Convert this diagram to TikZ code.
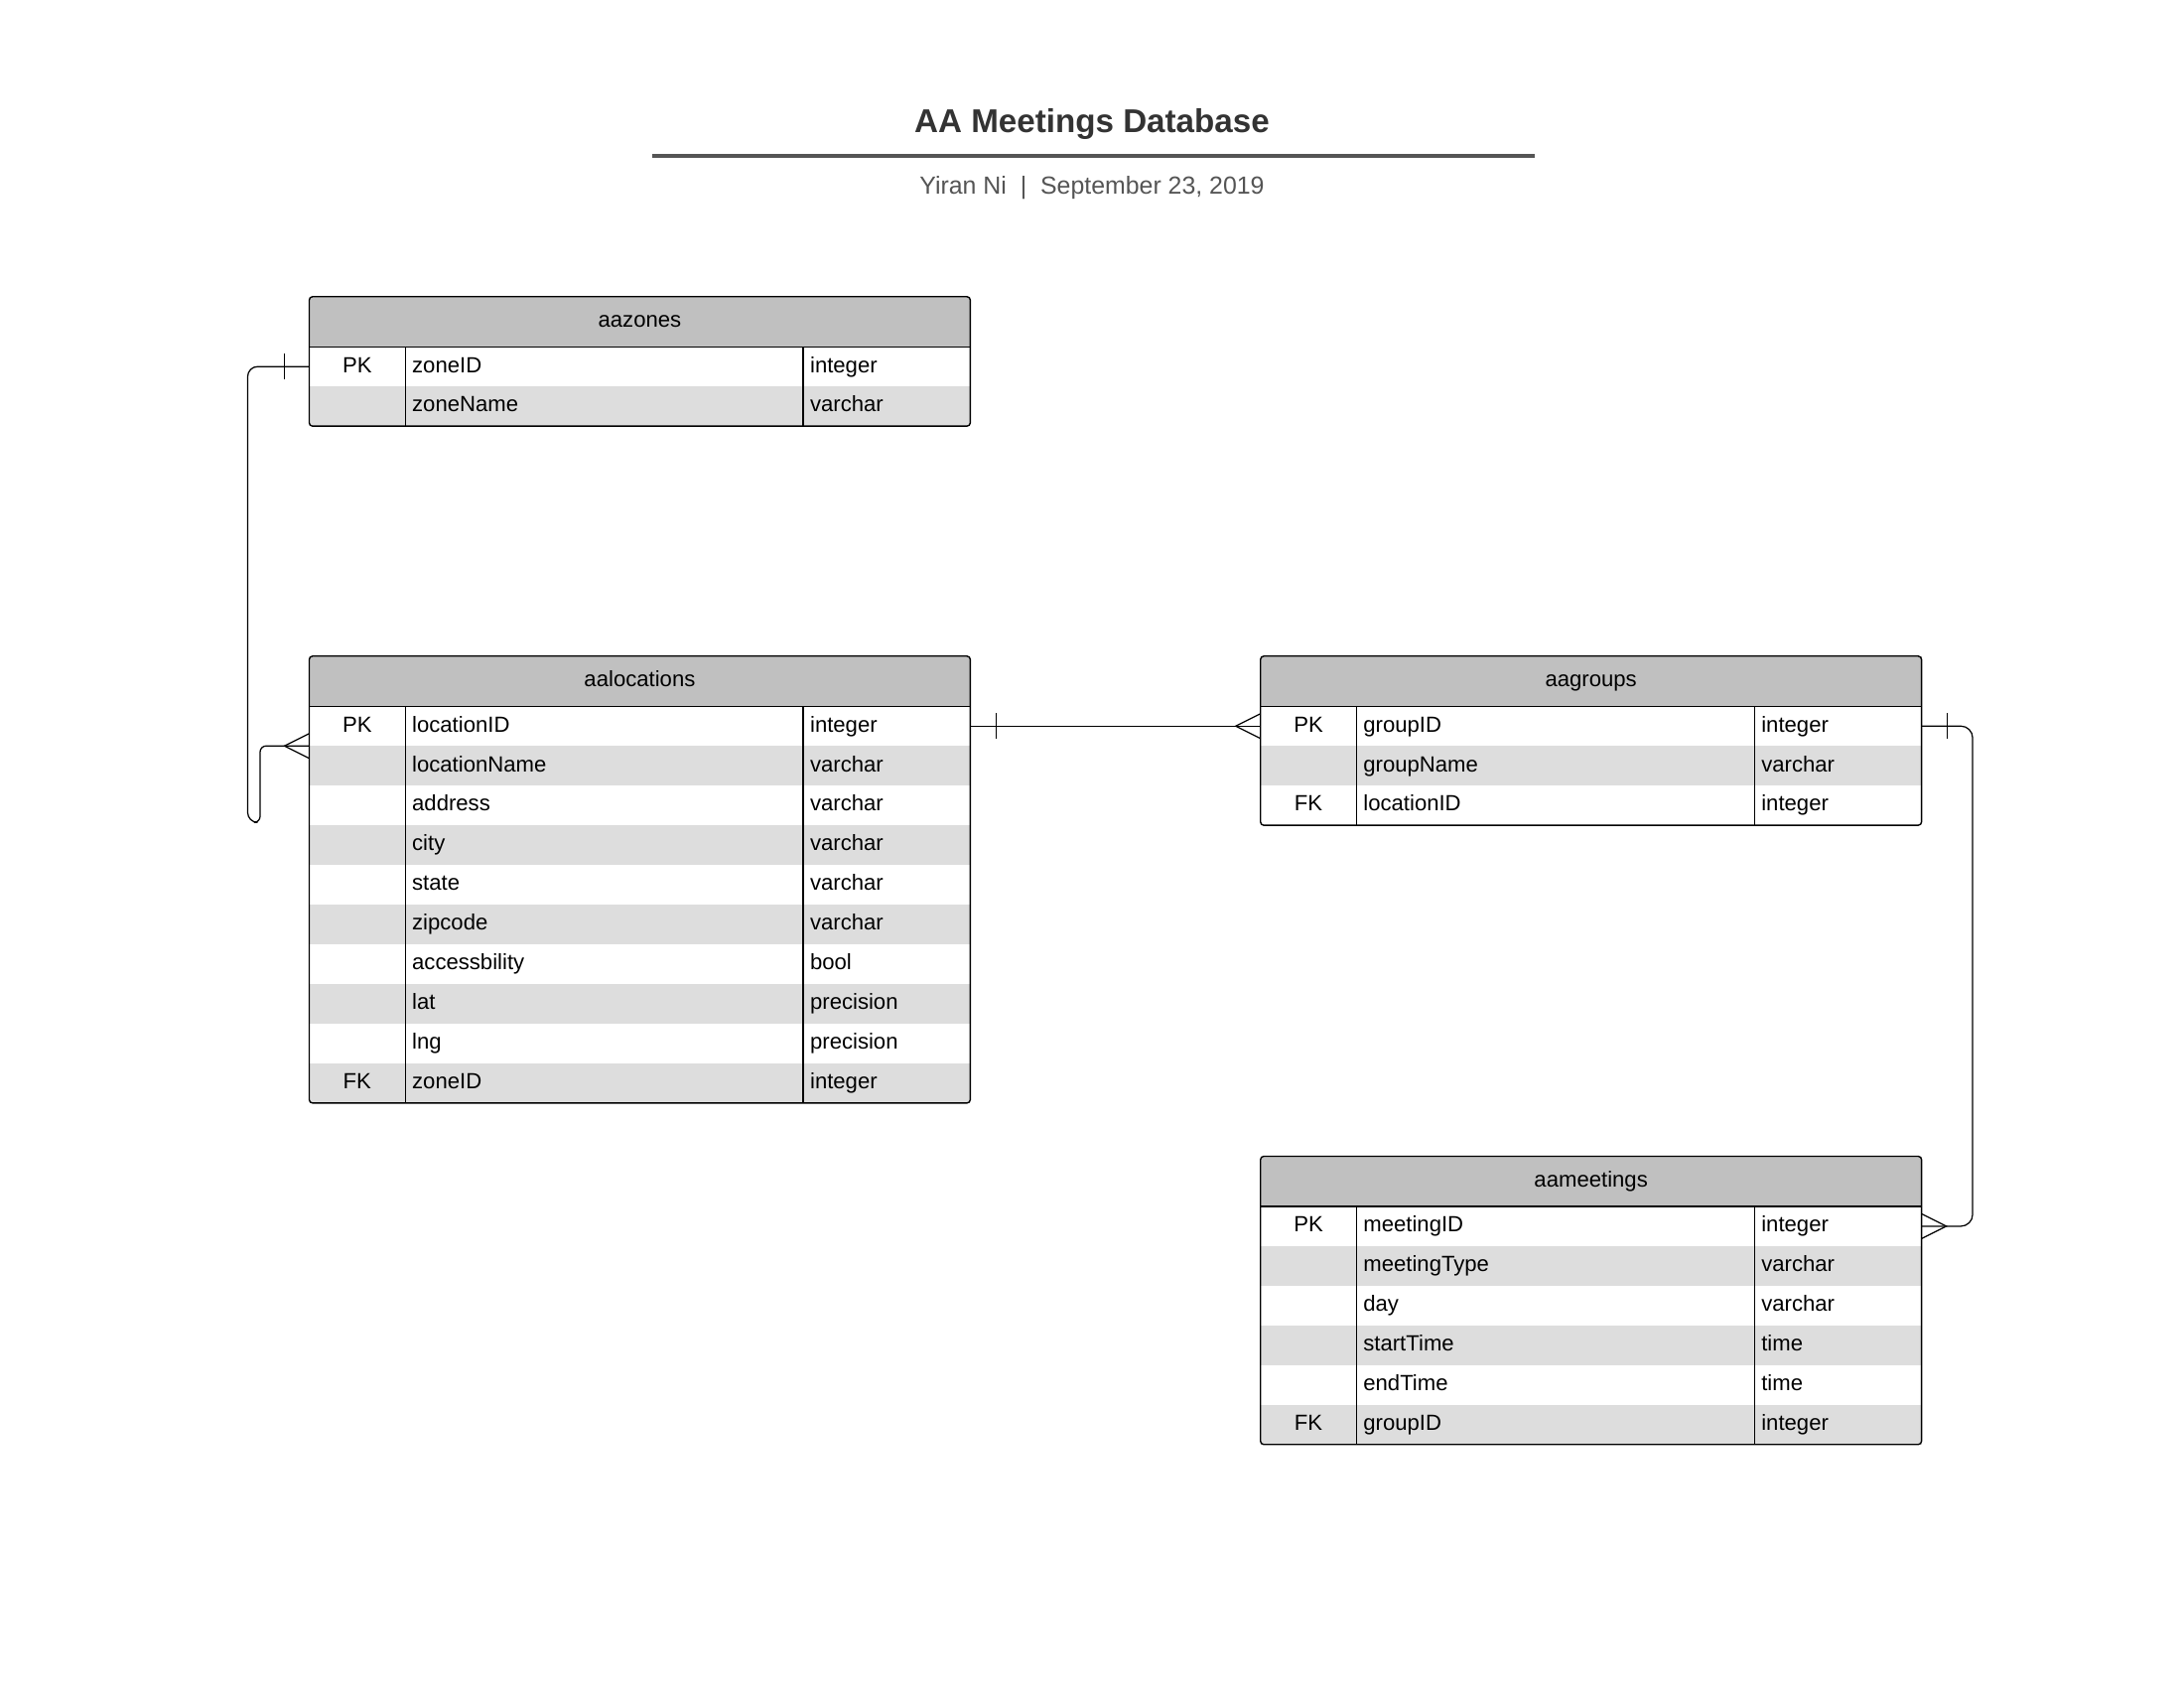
\documentclass[tikz,border=0pt]{standalone}
\usepackage{fontspec}
\setmainfont{Liberation Sans}
\usepackage{tikz}
\usetikzlibrary{positioning, calc}
\definecolor{headgray}{RGB}{192,192,192}
\definecolor{rowgray}{RGB}{221,221,221}
\definecolor{titlegray}{RGB}{51,51,51}
\definecolor{subgray}{RGB}{85,85,85}
\newcommand{\tabfont}{\fontsize{8}{9.6}\selectfont}
\tikzstyle{tabhead} =
[rectangle, minimum width = 239.94bp, minimum height = 0.2525in,
inner sep = 0pt, outer sep = 0pt, text centered, fill=headgray,
anchor = north west, font = \tabfont, text height = 6pt, text depth = 1.8pt]
\tikzstyle{cell} =
[rectangle, minimum height = 0.2in, inner sep = 0pt, outer sep = 0pt,
font = \tabfont, text height = 6pt, text depth = 1.8pt]
\tikzstyle{keycell} = [cell, minimum width = 34.85bp, text centered]
\tikzstyle{namecell} =
[cell, inner xsep = 2.5bp, text width = 139.47bp, align = left]
\tikzstyle{typecell} =
[cell, inner xsep = 2.5bp, text width = 55.62bp, align = left]
\tikzstyle{lightrow} = [fill=white]
\tikzstyle{darkrow} = [fill=rowgray]
\tikzstyle{tabline} = [draw=black, line width = 0.5pt]
\tikzstyle{rel} = [draw=black, line width = 0.45pt]
\begin{document}
\begin{tikzpicture}[x = 0.005in, y = -0.005in]
  \useasboundingbox (0,0) rectangle (2200,1700);
  % title block
  \node [font = \fontsize{12}{14}\selectfont\bfseries, text=titlegray]
   (title) at (1100,125.5) {AA Meetings Database};
  \coordinate (rulewest) at (657,157);
  \coordinate (ruleeast) at (1546,157);
  \draw [line width = 1.1pt, subgray] (rulewest) -- (ruleeast);
  \node [font = \fontsize{9}{11}\selectfont, text=subgray]
   (byline) at (1100,189) {Yiran Ni\ \ |\ \ September 23, 2019};
  %
  % aazones
  \node [tabhead] (zones) at (311.5,298.8) {aazones};
  \node [keycell, lightrow, below right=0pt of zones.south west] (zk1) {PK};
  \node [namecell, lightrow, right=0pt of zk1] (zn1) {zoneID};
  \node [typecell, lightrow, right=0pt of zn1] (zt1) {integer};
  \node [keycell, darkrow, below=0pt of zk1] (zk2) {};
  \node [namecell, darkrow, right=0pt of zk2] (zn2) {zoneName};
  \node [typecell, darkrow, right=0pt of zn2] (zt2) {varchar};
  \draw [tabline, rounded corners=1.2pt] (zones.north west) rectangle (zt2.south east);
  \draw [tabline] (zones.south west) -- (zones.south east);
  \draw [tabline] (zk1.north east) -- (zk2.south east);
  \draw [tabline] (zn1.north east) -- (zn2.south east);
  %
  % aalocations
  \node [tabhead] (locations) at (311.5,660.8) {aalocations};
  \node [keycell, lightrow, below right=0pt of locations.south west] (lk1) {PK};
  \node [namecell, lightrow, right=0pt of lk1] (ln1) {locationID};
  \node [typecell, lightrow, right=0pt of ln1] (lt1) {integer};
  \node [keycell, darkrow, below=0pt of lk1] (lk2) {};
  \node [namecell, darkrow, right=0pt of lk2] (ln2) {locationName};
  \node [typecell, darkrow, right=0pt of ln2] (lt2) {varchar};
  \node [keycell, lightrow, below=0pt of lk2] (lk3) {};
  \node [namecell, lightrow, right=0pt of lk3] (ln3) {address};
  \node [typecell, lightrow, right=0pt of ln3] (lt3) {varchar};
  \node [keycell, darkrow, below=0pt of lk3] (lk4) {};
  \node [namecell, darkrow, right=0pt of lk4] (ln4) {city};
  \node [typecell, darkrow, right=0pt of ln4] (lt4) {varchar};
  \node [keycell, lightrow, below=0pt of lk4] (lk5) {};
  \node [namecell, lightrow, right=0pt of lk5] (ln5) {state};
  \node [typecell, lightrow, right=0pt of ln5] (lt5) {varchar};
  \node [keycell, darkrow, below=0pt of lk5] (lk6) {};
  \node [namecell, darkrow, right=0pt of lk6] (ln6) {zipcode};
  \node [typecell, darkrow, right=0pt of ln6] (lt6) {varchar};
  \node [keycell, lightrow, below=0pt of lk6] (lk7) {};
  \node [namecell, lightrow, right=0pt of lk7] (ln7) {accessbility};
  \node [typecell, lightrow, right=0pt of ln7] (lt7) {bool};
  \node [keycell, darkrow, below=0pt of lk7] (lk8) {};
  \node [namecell, darkrow, right=0pt of lk8] (ln8) {lat};
  \node [typecell, darkrow, right=0pt of ln8] (lt8) {precision};
  \node [keycell, lightrow, below=0pt of lk8] (lk9) {};
  \node [namecell, lightrow, right=0pt of lk9] (ln9) {lng};
  \node [typecell, lightrow, right=0pt of ln9] (lt9) {precision};
  \node [keycell, darkrow, below=0pt of lk9] (lk10) {FK};
  \node [namecell, darkrow, right=0pt of lk10] (ln10) {zoneID};
  \node [typecell, darkrow, right=0pt of ln10] (lt10) {integer};
  \draw [tabline, rounded corners=1.2pt] (locations.north west) rectangle (lt10.south east);
  \draw [tabline] (locations.south west) -- (locations.south east);
  \draw [tabline] (lk1.north east) -- (lk10.south east);
  \draw [tabline] (ln1.north east) -- (ln10.south east);
  %
  % aagroups
  \node [tabhead] (groups) at (1269.7,660.8) {aagroups};
  \node [keycell, lightrow, below right=0pt of groups.south west] (gk1) {PK};
  \node [namecell, lightrow, right=0pt of gk1] (gn1) {groupID};
  \node [typecell, lightrow, right=0pt of gn1] (gt1) {integer};
  \node [keycell, darkrow, below=0pt of gk1] (gk2) {};
  \node [namecell, darkrow, right=0pt of gk2] (gn2) {groupName};
  \node [typecell, darkrow, right=0pt of gn2] (gt2) {varchar};
  \node [keycell, lightrow, below=0pt of gk2] (gk3) {FK};
  \node [namecell, lightrow, right=0pt of gk3] (gn3) {locationID};
  \node [typecell, lightrow, right=0pt of gn3] (gt3) {integer};
  \draw [tabline, rounded corners=1.2pt] (groups.north west) rectangle (gt3.south east);
  \draw [tabline] (groups.south west) -- (groups.south east);
  \draw [tabline] (gk1.north east) -- (gk3.south east);
  \draw [tabline] (gn1.north east) -- (gn3.south east);
  %
  % aameetings
  \node [tabhead] (meetings) at (1269.7,1164.5) {aameetings};
  \node [keycell, lightrow, below right=0pt of meetings.south west] (mk1) {PK};
  \node [namecell, lightrow, right=0pt of mk1] (mn1) {meetingID};
  \node [typecell, lightrow, right=0pt of mn1] (mt1) {integer};
  \node [keycell, darkrow, below=0pt of mk1] (mk2) {};
  \node [namecell, darkrow, right=0pt of mk2] (mn2) {meetingType};
  \node [typecell, darkrow, right=0pt of mn2] (mt2) {varchar};
  \node [keycell, lightrow, below=0pt of mk2] (mk3) {};
  \node [namecell, lightrow, right=0pt of mk3] (mn3) {day};
  \node [typecell, lightrow, right=0pt of mn3] (mt3) {varchar};
  \node [keycell, darkrow, below=0pt of mk3] (mk4) {};
  \node [namecell, darkrow, right=0pt of mk4] (mn4) {startTime};
  \node [typecell, darkrow, right=0pt of mn4] (mt4) {time};
  \node [keycell, lightrow, below=0pt of mk4] (mk5) {};
  \node [namecell, lightrow, right=0pt of mk5] (mn5) {endTime};
  \node [typecell, lightrow, right=0pt of mn5] (mt5) {time};
  \node [keycell, darkrow, below=0pt of mk5] (mk6) {FK};
  \node [namecell, darkrow, right=0pt of mk6] (mn6) {groupID};
  \node [typecell, darkrow, right=0pt of mn6] (mt6) {integer};
  \draw [tabline, rounded corners=1.2pt] (meetings.north west) rectangle (mt6.south east);
  \draw [tabline] (meetings.south west) -- (meetings.south east);
  \draw [tabline] (mk1.north east) -- (mk6.south east);
  \draw [tabline] (mn1.north east) -- (mn6.south east);
  %
  % relations
  \draw [rel] (zk1.west) [rounded corners=3.6pt] -- ++(-62,0) -- ++(0,459)
   [rounded corners=2.2pt] -- ++(12.5,0) -- ++(0,-77)
   [rounded corners=3.6pt] -- (lk1.south west);
  \draw [rel] (lt1.east) -- (gk1.west);
  \draw [rel, rounded corners=4.3pt] (gt1.east) -- ++(51.5,0) |- (mt1.east);
  % one ends
  \draw [rel] ($(zk1.west)+(-25,-13)$) -- ($(zk1.west)+(-25,13)$);
  \draw [rel] ($(lt1.east)+(26,-13)$) -- ($(lt1.east)+(26,13)$);
  \draw [rel] ($(gt1.east)+(26,-13)$) -- ($(gt1.east)+(26,13)$);
  % many ends
  \draw [rel] ($(lk1.south west)+(0,-12.5)$) -- ($(lk1.south west)+(-25,0)$)
   -- ($(lk1.south west)+(0,12.5)$);
  \draw [rel] ($(gk1.west)+(0,-12.5)$) -- ($(gk1.west)+(-25,0)$)
   -- ($(gk1.west)+(0,12.5)$);
  \draw [rel] ($(mt1.east)+(0,-12.5)$) -- ($(mt1.east)+(25,0)$)
   -- ($(mt1.east)+(0,12.5)$);
\end{tikzpicture}
\end{document}
